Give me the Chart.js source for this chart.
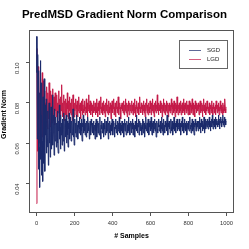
<!DOCTYPE html>
<html><head><meta charset="utf-8">
<script src="https://cdn.jsdelivr.net/npm/chart.js@4"></script>
<style>html,body{margin:0;padding:0;background:#fff}#w{width:249px;height:249px}</style>
</head><body><div id="w"><canvas id="c" width="249" height="249"></canvas></div>
<script>
const TITLE = "PredMSD Gradient Norm Comparison";
const X_TITLE = "# Samples";
const Y_TITLE = "Gradient Norm";
const seriesNames = ["SGD", "LGD"];
const xTicks = [0, 200, 400, 600, 800, 1000];
const yTicks = [0.04, 0.06, 0.08, 0.10];
const sgd = [
0.113,0.095,0.062,0.104,0.088,0.047,0.096,0.058,0.038,0.085,0.101,0.052,0.074,0.044,0.090,0.061,0.041,0.083,0.068,0.050,0.092,0.057,0.046,0.079,0.064,
0.071,0.055,0.082,0.063,0.058,0.076,0.049,0.068,0.080,0.060,0.072,0.053,0.066,0.078,0.057,0.070,0.062,0.084,0.059,0.065,0.074,0.054,0.069,0.077,0.061,
0.067,0.073,0.058,0.070,0.063,0.076,0.060,0.055,0.071,0.066,0.079,0.062,0.068,0.057,0.074,0.064,0.070,0.059,0.072,0.065,0.061,0.075,0.067,0.056,0.069,
0.072,0.063,0.068,0.074,0.060,0.066,0.071,0.064,0.058,0.070,0.067,0.075,0.062,0.069,0.065,0.073,0.061,0.068,0.071,0.064,0.066,0.077,0.063,0.070,0.059,
0.068,0.072,0.065,0.070,0.063,0.067,0.074,0.066,0.069,0.062,0.071,0.068,0.065,0.073,0.067,0.070,0.064,0.069,0.072,0.066,0.061,0.070,0.068,0.074,0.065,
0.069,0.066,0.072,0.064,0.070,0.067,0.063,0.071,0.068,0.065,0.073,0.069,0.066,0.070,0.062,0.068,0.071,0.067,0.064,0.072,0.069,0.066,0.070,0.065,0.068,
0.071,0.064,0.067,0.069,0.062,0.070,0.066,0.072,0.068,0.063,0.069,0.071,0.065,0.067,0.070,0.064,0.068,0.073,0.066,0.062,0.069,0.067,0.071,0.065,0.068,
0.070,0.066,0.063,0.069,0.072,0.067,0.064,0.068,0.071,0.065,0.069,0.066,0.073,0.068,0.062,0.070,0.067,0.065,0.071,0.069,0.064,0.068,0.070,0.066,0.072,
0.067,0.064,0.069,0.071,0.066,0.068,0.063,0.070,0.067,0.072,0.065,0.069,0.068,0.064,0.071,0.066,0.070,0.067,0.073,0.065,0.068,0.070,0.064,0.069,0.066,
0.071,0.068,0.065,0.070,0.067,0.063,0.069,0.072,0.066,0.068,0.070,0.064,0.067,0.071,0.069,0.065,0.068,0.073,0.066,0.070,0.067,0.064,0.069,0.071,0.068,
0.065,0.070,0.067,0.072,0.064,0.068,0.070,0.066,0.069,0.063,0.071,0.067,0.068,0.074,0.066,0.069,0.065,0.070,0.068,0.072,0.064,0.067,0.071,0.069,0.066,
0.070,0.068,0.064,0.069,0.072,0.067,0.065,0.071,0.068,0.070,0.063,0.069,0.067,0.073,0.066,0.068,0.070,0.065,0.069,0.072,0.067,0.064,0.070,0.068,0.071,
0.066,0.069,0.073,0.067,0.064,0.070,0.068,0.071,0.065,0.069,0.067,0.072,0.066,0.068,0.070,0.063,0.069,0.071,0.067,0.065,0.070,0.068,0.072,0.066,0.069,
0.068,0.071,0.065,0.069,0.067,0.073,0.066,0.070,0.064,0.068,0.072,0.067,0.069,0.065,0.071,0.068,0.070,0.066,0.069,0.074,0.067,0.064,0.070,0.068,0.071,
0.067,0.070,0.065,0.069,0.072,0.068,0.066,0.071,0.069,0.064,0.070,0.067,0.073,0.068,0.066,0.070,0.069,0.065,0.071,0.068,0.072,0.066,0.069,0.067,0.070,
0.068,0.072,0.066,0.070,0.067,0.064,0.069,0.071,0.068,0.073,0.066,0.069,0.070,0.065,0.068,0.072,0.067,0.070,0.066,0.069,0.071,0.064,0.068,0.070,0.067,
0.071,0.068,0.066,0.070,0.073,0.067,0.069,0.065,0.070,0.068,0.072,0.066,0.069,0.071,0.067,0.064,0.070,0.068,0.072,0.069,0.066,0.070,0.067,0.071,0.068,
0.069,0.066,0.071,0.068,0.073,0.067,0.070,0.065,0.069,0.072,0.068,0.070,0.066,0.071,0.069,0.067,0.073,0.068,0.065,0.070,0.072,0.067,0.069,0.071,0.068,
0.070,0.072,0.067,0.071,0.069,0.073,0.068,0.070,0.066,0.071,0.069,0.072,0.068,0.074,0.070,0.067,0.071,0.069,0.072,0.068,0.070,0.073,0.067,0.071,0.069,
0.072,0.070,0.068,0.071,0.074,0.069,0.071,0.067,0.072,0.070,0.073,0.069,0.071,0.068,0.072,0.070,0.074,0.069,0.071,0.068,0.073,0.070,0.072,0.069,0.071
];
const lgd = [
0.030,0.107,0.088,0.056,0.098,0.072,0.094,0.060,0.085,0.066,0.092,0.074,0.058,0.089,0.070,0.095,0.063,0.084,0.077,0.091,0.065,0.086,0.071,0.080,0.068,
0.082,0.070,0.088,0.075,0.067,0.085,0.079,0.072,0.090,0.074,0.081,0.068,0.086,0.077,0.073,0.084,0.070,0.079,0.087,0.075,0.071,0.083,0.078,0.069,0.085,
0.076,0.081,0.073,0.084,0.078,0.071,0.080,0.075,0.086,0.077,0.072,0.082,0.079,0.074,0.083,0.076,0.089,0.078,0.073,0.080,0.075,0.084,0.077,0.071,0.081,
0.078,0.074,0.082,0.076,0.080,0.073,0.085,0.077,0.079,0.072,0.081,0.076,0.083,0.075,0.078,0.080,0.074,0.082,0.077,0.071,0.079,0.084,0.076,0.078,0.073,
0.080,0.076,0.078,0.082,0.074,0.079,0.077,0.081,0.073,0.078,0.076,0.083,0.075,0.079,0.077,0.080,0.072,0.078,0.081,0.076,0.079,0.074,0.082,0.077,0.075,
0.079,0.076,0.081,0.074,0.078,0.077,0.082,0.075,0.080,0.073,0.078,0.076,0.084,0.077,0.079,0.075,0.081,0.078,0.074,0.080,0.076,0.079,0.073,0.078,0.077,
0.081,0.075,0.078,0.076,0.080,0.074,0.079,0.077,0.082,0.075,0.078,0.073,0.080,0.077,0.076,0.081,0.074,0.079,0.077,0.083,0.075,0.078,0.076,0.080,0.074,
0.078,0.076,0.081,0.075,0.079,0.077,0.073,0.080,0.076,0.078,0.082,0.075,0.077,0.079,0.074,0.081,0.076,0.078,0.075,0.080,0.077,0.072,0.079,0.076,0.081,
0.075,0.079,0.077,0.082,0.074,0.078,0.076,0.080,0.073,0.079,0.077,0.081,0.075,0.078,0.076,0.083,0.074,0.079,0.077,0.080,0.075,0.078,0.072,0.079,0.077,
0.080,0.076,0.078,0.075,0.081,0.077,0.074,0.079,0.076,0.082,0.078,0.075,0.080,0.077,0.073,0.079,0.076,0.081,0.078,0.074,0.080,0.077,0.076,0.079,0.075,
0.078,0.081,0.076,0.079,0.074,0.080,0.077,0.075,0.082,0.076,0.078,0.073,0.079,0.077,0.081,0.075,0.078,0.076,0.080,0.074,0.079,0.077,0.083,0.076,0.078,
0.075,0.080,0.077,0.079,0.074,0.078,0.076,0.081,0.075,0.079,0.077,0.073,0.080,0.076,0.078,0.082,0.075,0.079,0.077,0.074,0.080,0.076,0.078,0.075,0.081,
0.077,0.079,0.074,0.080,0.076,0.078,0.082,0.075,0.079,0.077,0.073,0.080,0.076,0.081,0.078,0.075,0.079,0.077,0.084,0.076,0.078,0.074,0.080,0.077,0.079,
0.076,0.081,0.075,0.078,0.077,0.080,0.073,0.079,0.076,0.082,0.077,0.075,0.080,0.078,0.074,0.079,0.076,0.081,0.077,0.075,0.080,0.078,0.073,0.079,0.076,
0.080,0.077,0.075,0.079,0.076,0.082,0.078,0.074,0.080,0.077,0.079,0.075,0.081,0.076,0.078,0.073,0.080,0.077,0.079,0.075,0.083,0.076,0.078,0.074,0.079,
0.077,0.080,0.075,0.078,0.076,0.081,0.074,0.079,0.077,0.080,0.075,0.078,0.082,0.076,0.079,0.074,0.080,0.077,0.078,0.075,0.081,0.076,0.079,0.077,0.074,
0.079,0.076,0.081,0.077,0.074,0.080,0.078,0.075,0.079,0.076,0.082,0.077,0.074,0.080,0.078,0.076,0.079,0.073,0.081,0.077,0.078,0.075,0.080,0.076,0.079,
0.076,0.080,0.077,0.074,0.079,0.078,0.081,0.075,0.078,0.076,0.080,0.077,0.073,0.079,0.076,0.082,0.078,0.075,0.079,0.077,0.080,0.074,0.078,0.076,0.081,
0.077,0.079,0.075,0.078,0.076,0.080,0.074,0.078,0.077,0.079,0.075,0.081,0.076,0.078,0.074,0.079,0.077,0.080,0.075,0.078,0.076,0.079,0.074,0.081,0.077,
0.078,0.075,0.079,0.076,0.080,0.077,0.074,0.078,0.076,0.081,0.077,0.075,0.079,0.076,0.078,0.074,0.080,0.077,0.075,0.079,0.076,0.082,0.077,0.075,0.078
];
const STEP = 2;
const samples = sgd.map((_, i) => i * STEP);
const COLORS = ["#1b2a6b", "#c41a48"];
const FONT = "'Liberation Sans', Arial, Helvetica, sans-serif";

const decor = {
  id: 'decor',
  afterDraw(chart) {
    const ctx = chart.ctx, a = chart.chartArea;
    ctx.save();
    ctx.strokeStyle = '#555'; ctx.lineWidth = 1;
    ctx.strokeRect(Math.round(a.left) + 0.5, Math.round(a.top) + 0.5, Math.round(a.right - a.left) - 1, Math.round(a.bottom - a.top) - 1);
    ctx.fillStyle = '#000';
    ctx.textAlign = 'center'; ctx.textBaseline = 'middle';
    ctx.font = "bold 11.5px " + FONT;
    ctx.fillText(TITLE, 124.5, 15);
    ctx.font = "bold 7px " + FONT;
    ctx.fillText(X_TITLE, (a.left + a.right) / 2, 236.5);
    ctx.save();
    ctx.translate(4.5, (a.top + a.bottom) / 2 - 7);
    ctx.rotate(-Math.PI / 2);
    ctx.fillText(Y_TITLE, 0, 0);
    ctx.restore();
    // legend
    const lx = 179.5, ly = 40.5, lw = 48, lh = 28;
    ctx.fillStyle = '#fff'; ctx.fillRect(lx, ly, lw, lh);
    ctx.strokeStyle = '#666'; ctx.strokeRect(lx, ly, lw, lh);
    ctx.font = "6px " + FONT; ctx.textAlign = 'left';
    seriesNames.forEach((n, i) => {
      const yy = 49.5 + i * 9.5;
      ctx.strokeStyle = COLORS[i]; ctx.globalAlpha = 0.7;
      ctx.beginPath(); ctx.moveTo(189, Math.round(yy) + 0.5); ctx.lineTo(201, Math.round(yy) + 0.5); ctx.stroke();
      ctx.globalAlpha = 1;
      ctx.fillStyle = '#222'; ctx.fillText(n, 207, yy + 0.5);
    });
    ctx.restore();
  }
};

new Chart(document.getElementById('c'), {
  type: 'line',
  data: {
    datasets: [sgd, lgd].map((arr, k) => ({
      label: seriesNames[k],
      data: arr.map((v, i) => ({ x: samples[i], y: v })),
      borderColor: COLORS[k],
      borderWidth: 1,
      pointRadius: 0,
      tension: 0,
      fill: false
    }))
  },
  options: {
    responsive: false,
    animation: false,
    events: [],
    layout: { padding: { top: 30, right: 15, left: 0, bottom: 0 } },
    plugins: { legend: { display: false }, tooltip: { enabled: false }, title: { display: false } },
    scales: {
      x: {
        type: 'linear', min: -40, max: 1040,
        afterFit(s) { s.height = 36; },
        afterBuildTicks(s) { s.ticks = xTicks.map(v => ({ value: v })); },
        grid: { display: true, drawOnChartArea: false, drawTicks: true, tickLength: 3, color: '#555', lineWidth: 1 },
        border: { display: false },
        ticks: { font: { size: 5.8, family: FONT }, color: '#333', padding: 4, maxRotation: 0, minRotation: 0, callback: v => String(v) }
      },
      y: {
        type: 'linear', min: 0.0253, max: 0.1162,
        afterFit(s) { s.width = 29; },
        afterBuildTicks(s) { s.ticks = yTicks.map(v => ({ value: v })); },
        grid: { display: true, drawOnChartArea: false, drawTicks: true, tickLength: 3, color: '#555', lineWidth: 1 },
        border: { display: false },
        ticks: { font: { size: 5.8, family: FONT }, color: '#333', padding: 9, minRotation: 90, maxRotation: 90, callback: v => v.toFixed(2) }
      }
    }
  },
  plugins: [decor]
});
</script>
</body></html>
